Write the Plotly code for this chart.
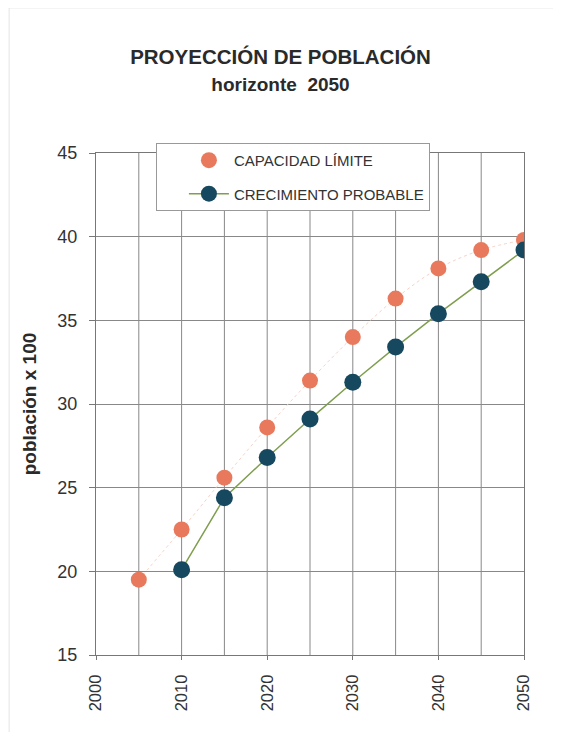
import plotly.graph_objects as go

years_cap = [2005, 2010, 2015, 2020, 2025, 2030, 2035, 2040, 2045, 2050]
capacidad = [19.5, 22.5, 25.6, 28.6, 31.4, 34.0, 36.3, 38.1, 39.2, 39.8]
years_cre = [2010, 2015, 2020, 2025, 2030, 2035, 2040, 2045, 2050]
crecimiento = [20.1, 24.4, 26.8, 29.1, 31.3, 33.4, 35.4, 37.3, 39.2]
x_ticks = [2000, 2010, 2020, 2030, 2040, 2050]
y_ticks = [15, 20, 25, 30, 35, 40, 45]

FONT = "Liberation Sans, Arial, sans-serif"
ORANGE = "#E8795C"
NAVY = "#16485F"
GREEN = "#7F9E4E"

fig = go.Figure()
fig.add_trace(go.Scatter(
    x=years_cap, y=capacidad, mode="lines", line=dict(color="#F6D3C6", width=1, dash="dot", shape="spline"),
    showlegend=False, hoverinfo="skip"))
fig.add_trace(go.Scatter(
    x=years_cap, y=capacidad, mode="markers", name="CAPACIDAD LÍMITE", legendgroup="a",
    marker=dict(color=ORANGE, size=16)))
fig.add_trace(go.Scatter(
    x=years_cre, y=crecimiento, mode="lines+markers", name="CRECIMIENTO PROBABLE", legendgroup="b",
    line=dict(color=GREEN, width=1.5),
    marker=dict(color=NAVY, size=17)))

fig.update_layout(
    width=545, height=724,
    paper_bgcolor="white", plot_bgcolor="white",
    margin=dict(l=88, r=29, t=145, b=77),
    font=dict(family=FONT, color="#222"),
    title=dict(
        text="<b>PROYECCIÓN DE POBLACIÓN</b><br><span style='font-size:19px'><b>horizonte  2050</b></span>",
        x=0.5, xanchor="center", y=0.922, yanchor="middle",
        font=dict(size=20.5, family=FONT, color="#2a2a2a")),
    legend=dict(
        x=0.14, y=1.02, xanchor="left", yanchor="top",
        bgcolor="white", bordercolor="#999", borderwidth=1,
        font=dict(size=15, family=FONT, color="#333"),
        itemwidth=40, tracegroupgap=11, indentation=27),
    showlegend=True,
    shapes=[
        dict(type="line", xref="paper", yref="paper", x0=-0.203, x1=1.2, y0=1.289, y1=1.289,
             line=dict(color="#e4e4e4", width=1)),
        dict(type="line", xref="paper", yref="paper", x0=-0.203, x1=-0.203, y0=1.289, y1=-0.2,
             line=dict(color="#e4e4e4", width=1)),
    ],
)
fig.update_xaxes(
    range=[2000, 2050], tickvals=x_ticks, tickangle=-90,
    showgrid=False, showline=True, linecolor="#777", linewidth=1, mirror=True,
    ticks="outside", ticklen=4, tickcolor="#777", ticklabelstandoff=8,
    tickfont=dict(size=16.5, family=FONT, color="#333"), zeroline=False)
# vertical gridlines every 5 years
for xv in range(2005, 2050, 5):
    fig.add_vline(x=xv, line=dict(color="#888", width=1), layer="below")
fig.update_yaxes(
    range=[15, 45], tickvals=y_ticks,
    showgrid=True, gridcolor="#888", gridwidth=1,
    showline=True, linecolor="#777", linewidth=1, mirror=True,
    ticks="outside", ticklen=6, tickcolor="#777", ticklabelstandoff=8,
    tickfont=dict(size=18, family=FONT, color="#333"), zeroline=False,
    title=dict(text="<b>población x 100</b>", font=dict(size=19, family=FONT, color="#2a2a2a"), standoff=15))

fig.write_html("out.html")
